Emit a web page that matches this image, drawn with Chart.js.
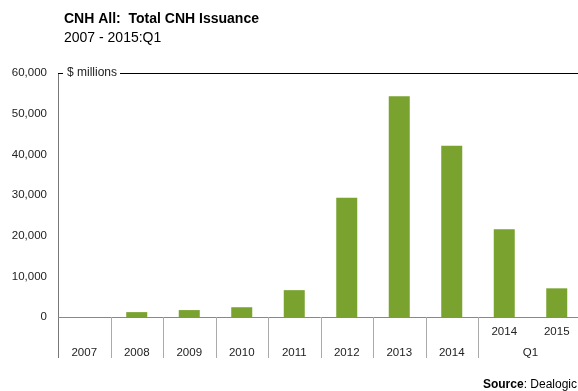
<!DOCTYPE html>
<html>
<head>
<meta charset="utf-8">
<script src="https://cdn.jsdelivr.net/npm/chart.js@4"></script>
<style>
html,body{margin:0;padding:0;background:#fff;overflow:hidden;}
#wrap{width:578px;height:391px;position:relative;overflow:hidden;}
canvas{display:block;}
</style>
</head>
<body>
<div id="wrap"><canvas id="c" width="583" height="391"></canvas></div>
<script>
const categories = ['2007','2008','2009','2010','2011','2012','2013','2014','Q1 2014','Q1 2015'];
const issuance = [0, 1200, 1700, 2400, 6600, 29300, 54300, 42100, 21600, 7050];
const xLabelUpper = ['', '', '', '', '', '', '', '', '2014', '2015'];
const xLabelLower = ['2007','2008','2009','2010','2011','2012','2013','2014','Q1','Q1'];
const yTicks = [0, 10000, 20000, 30000, 40000, 50000, 60000];

const FONT = '"Liberation Sans", Arial, sans-serif';

const overlay = {
  id: 'overlay',
  afterDraw(chart) {
    const ctx = chart.ctx;
    const x = chart.scales.x, y = chart.scales.y;
    const area = chart.chartArea;
    const top = y.getPixelForValue(60000);
    const zero = y.getPixelForValue(0);
    const bottom = zero + 41;
    ctx.save();
    // title
    ctx.fillStyle = '#000';
    ctx.textBaseline = 'alphabetic';
    ctx.textAlign = 'left';
    ctx.font = 'bold 14px ' + FONT;
    ctx.fillText('CNH All:  Total CNH Issuance', 64, 23);
    ctx.font = '14px ' + FONT;
    ctx.fillText('2007 - 2015:Q1', 64, 42);

    // y axis line
    ctx.strokeStyle = '#777';
    ctx.lineWidth = 1;
    ctx.beginPath();
    ctx.moveTo(Math.round(area.left) + 0.5, top);
    ctx.lineTo(Math.round(area.left) + 0.5, bottom);
    ctx.stroke();

    // zero line
    ctx.strokeStyle = '#888';
    ctx.beginPath();
    ctx.moveTo(area.left, Math.round(zero) + 0.5);
    ctx.lineTo(area.right, Math.round(zero) + 0.5);
    ctx.stroke();

    // category dividers
    ctx.strokeStyle = '#aaa';
    for (let i = 1; i < categories.length; i++) {
      if (xLabelLower[i] === xLabelLower[i - 1]) continue;
      const px = Math.round((x.getPixelForValue(i - 1) + x.getPixelForValue(i)) / 2) + 0.5;
      ctx.beginPath();
      ctx.moveTo(px, zero);
      ctx.lineTo(px, bottom);
      ctx.stroke();
    }

    // top bracket + label
    ctx.font = '12px ' + FONT;
    const lbl = '$ millions';
    const tx = area.left + 9;
    const tw = ctx.measureText(lbl).width;
    ctx.strokeStyle = '#000';
    ctx.lineWidth = 1.2;
    ctx.beginPath();
    ctx.moveTo(area.left, Math.round(top) + 0.5);
    ctx.lineTo(area.left + 5, Math.round(top) + 0.5);
    ctx.moveTo(tx + tw + 3, Math.round(top) + 0.5);
    ctx.lineTo(area.right, Math.round(top) + 0.5);
    ctx.stroke();
    ctx.fillStyle = '#222';
    ctx.textBaseline = 'middle';
    ctx.fillText(lbl, tx, top);

    // x labels
    ctx.font = '11.5px ' + FONT;
    ctx.textAlign = 'center';
    ctx.fillStyle = '#222';
    let i = 0;
    while (i < categories.length) {
      let j = i;
      while (j + 1 < categories.length && xLabelLower[j + 1] === xLabelLower[i]) j++;
      const cx = (x.getPixelForValue(i) + x.getPixelForValue(j)) / 2;
      ctx.fillText(xLabelLower[i], cx, zero + 36);
      i = j + 1;
    }
    for (let k = 0; k < categories.length; k++) {
      if (xLabelUpper[k]) ctx.fillText(xLabelUpper[k], x.getPixelForValue(k), zero + 15);
    }

    // source
    ctx.textAlign = 'left';
    ctx.textBaseline = 'alphabetic';
    const s1 = 'Source';
    const s2 = ': Dealogic';
    ctx.font = '12px ' + FONT;
    const w2 = ctx.measureText(s2).width;
    ctx.font = 'bold 12px ' + FONT;
    const w1 = ctx.measureText(s1).width;
    const sx = 577 - w1 - w2;
    ctx.fillStyle = '#000';
    ctx.fillText(s1, sx, 388);
    ctx.font = '12px ' + FONT;
    ctx.fillText(s2, sx + w1, 388);
    ctx.restore();
  }
};

new Chart(document.getElementById('c'), {
  type: 'bar',
  data: {
    labels: categories,
    datasets: [{
      data: issuance,
      backgroundColor: '#79a22f',
      barPercentage: 0.4,
      categoryPercentage: 1.0
    }]
  },
  options: {
    responsive: false,
    animation: false,
    devicePixelRatio: 1,
    layout: { padding: { top: 73, right: 0, left: 0, bottom: 0 } },
    plugins: { legend: { display: false }, tooltip: { enabled: false }, title: { display: false } },
    scales: {
      x: {
        grid: { display: false },
        border: { display: false },
        ticks: { display: false },
        afterFit(s) { s.height = 74; }
      },
      y: {
        min: 0, max: 60000,
        afterBuildTicks(s) { s.ticks = yTicks.map(v => ({ value: v })); },
        grid: { display: false },
        border: { display: false },
        ticks: {
          color: '#222',
          font: { family: FONT, size: 11.5 },
          padding: 3,
          callback: v => v.toLocaleString('en-US')
        },
        afterFit(s) { s.width = 58; }
      }
    }
  },
  plugins: [overlay]
});
</script>
</body>
</html>
